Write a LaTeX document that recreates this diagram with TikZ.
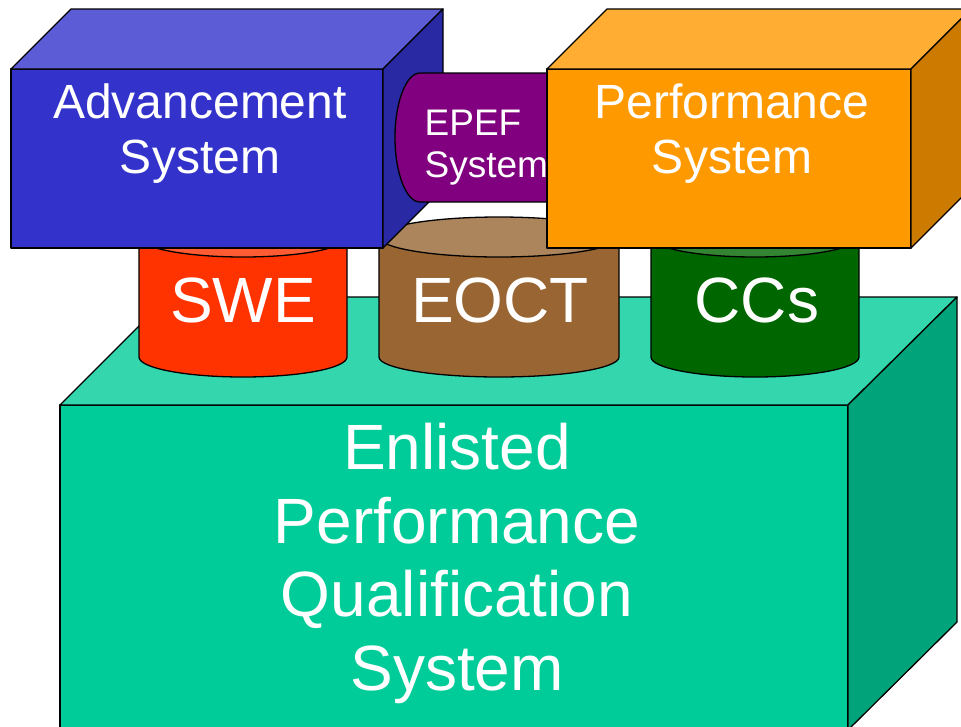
\documentclass[tikz,border=0pt]{standalone}
\usepackage{fontspec}
\setmainfont{Liberation Sans}
\definecolor{tealF}{HTML}{00CC99}
\definecolor{tealT}{HTML}{33D6AD}
\definecolor{tealR}{HTML}{00A37A}
\definecolor{blueF}{HTML}{3333CC}
\definecolor{blueT}{HTML}{5C5CD6}
\definecolor{blueR}{HTML}{2929A3}
\definecolor{oranF}{HTML}{FF9900}
\definecolor{oranT}{HTML}{FFAD33}
\definecolor{oranR}{HTML}{CC7A00}
\definecolor{purp}{HTML}{800080}
\definecolor{sweS}{HTML}{FF3300}
\definecolor{sweT}{HTML}{FF5C33}
\definecolor{eoctS}{HTML}{996633}
\definecolor{eoctT}{HTML}{AD855C}
\definecolor{ccsS}{HTML}{006600}
\definecolor{ccsT}{HTML}{338533}
\begin{document}
\begin{tikzpicture}[x=1pt,y=1pt,line width=1.3pt,line join=round,
  face/.style={draw=black,fill=#1},
  lbl/.style={text=white,inner sep=0pt,anchor=base,align=center}]
\useasboundingbox (0,0) rectangle (961,-726);
\clip (0,0) rectangle (961,-726);
% base box
\draw[face=tealF] (60,-405) rectangle (848,-730);
\draw[face=tealT] (60,-405) -- (168,-297) -- (957,-297) -- (848,-405) -- cycle;
\draw[face=tealR] (848,-405) -- (957,-297) -- (957,-622) -- (848,-730) -- cycle;
% cylinders
\draw[face=sweS] (139,-237) -- (139,-357) arc[start angle=180,end angle=360,x radius=104,y radius=20] -- (347,-237) -- cycle;
\draw[face=sweT] (243,-237) ellipse[x radius=104,y radius=20];
\draw[face=eoctS] (379,-237) -- (379,-357) arc[start angle=180,end angle=360,x radius=120,y radius=20] -- (619,-237) -- cycle;
\draw[face=eoctT] (499,-237) ellipse[x radius=120,y radius=20];
\draw[face=ccsS] (651,-237) -- (651,-357) arc[start angle=180,end angle=360,x radius=104,y radius=20] -- (859,-237) -- cycle;
\draw[face=ccsT] (755,-237) ellipse[x radius=104,y radius=20];
% blue box
\draw[face=blueF] (11,-69) rectangle (383,-248);
\draw[face=blueT] (11,-69) -- (71,-9) -- (443,-9) -- (383,-69) -- cycle;
\draw[face=blueR] (383,-69) -- (443,-9) -- (443,-188) -- (383,-248) -- cycle;
% EPEF horizontal cylinder
\draw[face=purp] (600,-73) -- (420,-73) arc[start angle=90,end angle=270,x radius=25,y radius=64.5] -- (600,-202) -- cycle;
\node[lbl,anchor=base west,align=left,font=\fontsize{37}{42}\selectfont] (epef) at (424,-177) {EPEF\\System};
% orange box
\draw[face=oranF] (547,-69) rectangle (911,-248);
\draw[face=oranT] (547,-69) -- (607,-9) -- (971,-9) -- (911,-69) -- cycle;
\draw[face=oranR] (911,-69) -- (971,-9) -- (971,-188) -- (911,-248) -- cycle;
% labels
\node[lbl,font=\fontsize{48}{55}\selectfont] (adv) at (200,-173) {Advancement\\System};
\node[lbl,font=\fontsize{48}{55}\selectfont] (perf) at (732,-173) {Performance\\System};
\node[lbl,font=\fontsize{64}{74}\selectfont] (swe) at (243,-322) {SWE};
\node[lbl,font=\fontsize{64}{74}\selectfont] (eoct) at (500,-322) {EOCT};
\node[lbl,font=\fontsize{64}{74}\selectfont] (ccs) at (757,-322) {CCs};
\node[lbl,font=\fontsize{64}{73.5}\selectfont] (epqs) at (457,-690) {Enlisted\\Performance\\Qualification\\System};
\end{tikzpicture}
\end{document}
